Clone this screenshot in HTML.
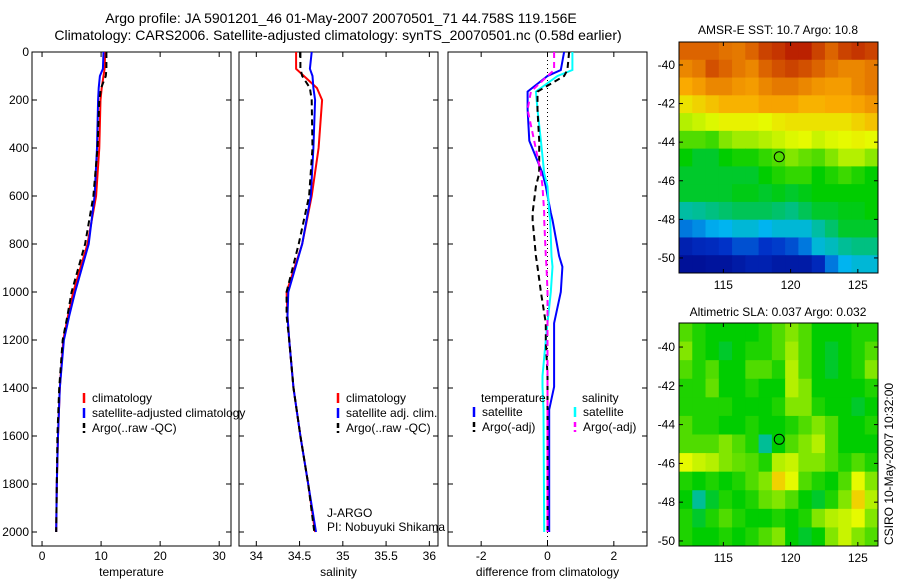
<!DOCTYPE html>
<html><head><meta charset="utf-8"><style>
body{margin:0;background:#fff;}
svg{display:block;font-family:"Liberation Sans",sans-serif;}
text{font-size:12px;fill:#000;}
</style></head><body>
<svg id="fig" width="900" height="580" xmlns="http://www.w3.org/2000/svg">
<text x="341" y="23" text-anchor="middle" style="font-size:14px">Argo profile: JA 5901201_46 01-May-2007 20070501_71 44.758S 119.156E</text>
<text x="338" y="40" text-anchor="middle" style="font-size:14px">Climatology: CARS2006. Satellite-adjusted climatology: synTS_20070501.nc (0.58d earlier)</text>
<text x="778" y="34" text-anchor="middle">AMSR-E SST: 10.7 Argo: 10.8</text>
<text x="778" y="316" text-anchor="middle">Altimetric SLA: 0.037 Argo: 0.032</text>
<text transform="translate(893,545) rotate(-90)">CSIRO 10-May-2007 10:32:00</text>
<g id="g"></g>
</svg>
<script>
// depth grid
const depth = [0,70,100,150,200,400,600,800,1000,1100,1200,1400,1600,1800,2000];
const tClim = [10.7,10.6,10.4,10.1,9.9,9.7,9.15,7.7,5.3,4.4,3.6,3.0,2.7,2.5,2.4];
const tSat  = [10.4,10.3,9.8,9.6,9.5,9.3,8.9,7.9,5.6,4.6,3.7,3.0,2.7,2.5,2.4];
const tArgo = [10.9,10.9,10.8,10.0,9.7,9.4,8.7,7.3,5.0,4.3,3.5,2.9,2.6,2.5,2.4];
const sClim = [34.46,34.46,34.55,34.70,34.76,34.72,34.64,34.53,34.35,34.36,34.38,34.43,34.51,34.60,34.68];
const sSat  = [34.64,34.62,34.65,34.66,34.68,34.66,34.63,34.53,34.37,34.36,34.38,34.43,34.51,34.60,34.69];
const sArgo = [34.51,34.51,34.53,34.62,34.64,34.65,34.61,34.49,34.35,34.35,34.38,34.43,34.51,34.60,34.67];
const dDepth = [0,75,100,165,240,370,505,560,670,700,850,895,1000,1130,1200,1350,1395,1490,2000];
const dTsat  = [0.5,0.4,0.0,-0.6,-0.6,-0.55,-0.15,-0.05,0.1,0.15,0.35,0.45,0.4,0.2,0.2,0.2,0.2,0.05,0.05];
const dSsat  = [0.75,0.75,0.3,-0.35,-0.3,-0.2,-0.1,0.0,0.05,0.08,0.12,0.15,0.1,0.0,-0.05,-0.15,-0.15,-0.12,-0.1];
const dTargo = [0.65,0.6,0.5,-0.3,-0.3,-0.25,-0.25,-0.35,-0.45,-0.45,-0.35,-0.3,-0.2,-0.05,-0.05,0,0,0,0];
const dSargo = [0.2,0.2,0.0,-0.5,-0.6,-0.4,-0.2,-0.15,-0.1,-0.1,-0.05,-0.03,0,0,0,0,0,0,0];
const depthTicks = [0,200,400,600,800,1000,1200,1400,1600,1800,2000];
const tTicks = [0,10,20,30];
const sTicks = [34,34.5,35,35.5,36];
const dTicks = [-2,0,2];
const lonTicks = [115,120,125];
const latTicks = [-40,-42,-44,-46,-48,-50];
const argoLon = 119.156, argoLat = -44.758;
const sstGrid = [
[.85,.85,.85,.83,.82,.85,.9,.92,.95,.95,.9,.85,.9,.92,.9],
[.8,.82,.88,.85,.82,.8,.85,.88,.9,.88,.85,.82,.8,.8,.82],
[.75,.77,.8,.8,.78,.77,.8,.82,.82,.8,.78,.77,.77,.8,.82],
[.68,.7,.72,.74,.74,.74,.76,.76,.76,.74,.74,.75,.75,.76,.78],
[.6,.62,.64,.66,.66,.66,.65,.67,.68,.68,.68,.68,.68,.7,.72],
[.5,.5,.48,.55,.58,.58,.6,.62,.64,.65,.62,.64,.65,.66,.65],
[.42,.4,.4,.42,.44,.44,.47,.5,.55,.52,.5,.55,.6,.6,.56],
[.4,.4,.4,.4,.4,.4,.42,.45,.47,.47,.42,.45,.48,.45,.42],
[.4,.4,.4,.4,.41,.41,.4,.41,.4,.41,.42,.42,.42,.42,.42],
[.34,.35,.36,.37,.38,.38,.38,.37,.36,.38,.4,.4,.41,.41,.42],
[.22,.24,.27,.28,.3,.3,.28,.3,.3,.3,.34,.37,.4,.4,.4],
[.1,.12,.13,.15,.18,.18,.15,.16,.18,.22,.3,.32,.35,.36,.36],
[.05,.05,.06,.06,.08,.1,.1,.08,.08,.08,.12,.22,.28,.3,.3]];
const slaGrid = [
[.5,.45,.42,.42,.42,.42,.45,.5,.55,.5,.42,.42,.42,.45,.45],
[.55,.45,.42,.4,.42,.45,.45,.5,.58,.5,.42,.4,.42,.45,.5],
[.5,.45,.5,.42,.42,.5,.5,.45,.6,.5,.42,.4,.42,.45,.55],
[.45,.45,.52,.42,.42,.45,.42,.42,.6,.55,.42,.42,.42,.42,.45],
[.45,.45,.45,.45,.42,.42,.42,.45,.55,.55,.45,.42,.42,.4,.42],
[.5,.45,.45,.42,.42,.45,.42,.42,.45,.5,.55,.5,.42,.42,.45],
[.5,.5,.5,.55,.5,.45,.35,.42,.5,.55,.6,.5,.42,.42,.42],
[.65,.62,.6,.55,.52,.5,.45,.6,.62,.55,.55,.5,.45,.5,.45],
[.45,.42,.45,.42,.45,.5,.55,.7,.65,.5,.45,.42,.5,.65,.55],
[.42,.35,.4,.45,.42,.45,.52,.55,.5,.42,.4,.45,.55,.7,.6],
[.45,.4,.45,.5,.45,.42,.42,.45,.42,.45,.55,.6,.62,.65,.55],
[.45,.42,.42,.45,.42,.45,.5,.55,.42,.4,.42,.55,.62,.55,.5]];

const NS='http://www.w3.org/2000/svg';
const G=document.getElementById('g');
function mk(tag,at,par){const e=document.createElementNS(NS,tag);for(const k in at)e.setAttribute(k,at[k]);(par||G).appendChild(e);return e;}
const yD = d => 52 + d*0.24;
function panel(name,x0,x1,vmin,vmax,ticks,xlabel,showY){
  const sx=v=>x0+(v-vmin)/(vmax-vmin)*(x1-x0);
  const fr=mk('rect',{x:x0,y:52,width:x1-x0,height:494,fill:'none',stroke:'#000','stroke-width':1});
  
  
  ticks.forEach(t=>{const x=sx(t);
    mk('line',{x1:x,y1:546,x2:x,y2:541,stroke:'#000'});mk('line',{x1:x,y1:52,x2:x,y2:57,stroke:'#000'});
    const tx=mk('text',{x:x,y:560,'text-anchor':'middle'});tx.textContent=String(t);
    
    });
  depthTicks.forEach(d=>{const y=yD(d);
    mk('line',{x1:x0,y1:y,x2:x0+5,y2:y,stroke:'#000'});mk('line',{x1:x1,y1:y,x2:x1-5,y2:y,stroke:'#000'});
    if(showY){const tx=mk('text',{x:x0-3,y:y+4,'text-anchor':'end'});tx.textContent=String(d);
      
      }});
  const xl=mk('text',{x:(x0+x1)/2,y:576,'text-anchor':'middle'});xl.textContent=xlabel;
  
  
  return sx;
}
function line(sx,ds,vs,col,dash,name){
  const p=mk('polyline',{points:vs.map((v,i)=>sx(v).toFixed(1)+','+yD(ds[i]).toFixed(1)).join(' '),fill:'none',stroke:col,'stroke-width':2,'stroke-dasharray':dash||'none'});
  
  
}
function legend(x,y,items){items.forEach((it,i)=>{
  mk('line',{x1:x,y1:y+i*15-9,x2:x,y2:y+i*15+1,stroke:it[1],'stroke-width':2.5,'stroke-dasharray':it[2]?'5,3':'none'});
  const t=mk('text',{x:x+8,y:y+i*15});t.textContent=it[0];
  
  });}
// panel 1
let sx=panel('temperature',32,231,-1.7,32,tTicks,'temperature',true);
line(sx,depth,tClim,'#f00',null,'temp-climatology-line');
line(sx,depth,tSat,'#00f',null,'temp-satellite-line');
line(sx,depth,tArgo,'#000','6,4','temp-argo-line');
legend(84,402,[['climatology','#f00'],['satellite-adjusted climatology','#00f'],['Argo(..raw -QC)','#000',1]]);
// panel 2
sx=panel('salinity',239,438,33.8,36.1,sTicks,'salinity',false);
line(sx,depth,sClim,'#f00',null,'sal-climatology-line');
line(sx,depth,sSat,'#00f',null,'sal-satellite-line');
line(sx,depth,sArgo,'#000','6,4','sal-argo-line');
legend(338,402,[['climatology','#f00'],['satellite adj. clim.','#00f'],['Argo(..raw -QC)','#000',1]]);
let t1=mk('text',{x:327,y:517});t1.textContent='J-ARGO';


let t2=mk('text',{x:327,y:531});t2.textContent='PI: Nobuyuki Shikama';


// panel 3
sx=panel('difference',448,647,-3,3,dTicks,'difference from climatology',false);
mk('line',{x1:sx(0),y1:52,x2:sx(0),y2:546,stroke:'#000','stroke-dasharray':'1,3'});
line(sx,dDepth,dTsat,'#00f',null,'diff-temp-satellite-line');
line(sx,dDepth,dSsat,'#0ff',null,'diff-sal-satellite-line');
line(sx,dDepth,dTargo,'#000','6,4','diff-temp-argo-line');
line(sx,dDepth,dSargo,'#f0f','6,4','diff-sal-argo-line');
let lt=mk('text',{x:481,y:402});lt.textContent='temperature';


let ls=mk('text',{x:582,y:402});ls.textContent='salinity';


legend(474,416,[['satellite','#00f'],['Argo(-adj)','#000',1]]);
legend(575,416,[['satellite','#0ff'],['Argo(-adj)','#f0f',1]]);
// colormap
const cs=[[0,[0,0,128]],[.15,[0,50,200]],[.28,[0,180,240]],[.35,[0,190,150]],[.42,[0,205,0]],[.55,[130,230,0]],[.65,[230,250,0]],[.75,[250,170,0]],[.85,[220,100,0]],[1,[170,0,0]]];
function cmap(v){for(let i=1;i<cs.length;i++){if(v<=cs[i][0]){const a=cs[i-1],b=cs[i],f=(v-a[0])/(b[0]-a[0]);return 'rgb('+a[1].map((c,k)=>Math.round(c+(b[1][k]-c)*f)).join(',')+')';}}return 'rgb(170,0,0)';}
function map(name,y0,y1,grid,latTop,latBot){
  const x0=679,x1=878,lonMin=111.7,lonMax=126.5;
  const sxm=l=>x0+(l-lonMin)/(lonMax-lonMin)*(x1-x0);
  const sym=l=>y0+(latTop-l)/(latTop-latBot)*(y1-y0);
  const R=grid.length,C=grid[0].length;
  const dLon=(lonMax-lonMin)/C,dLat=(latTop-latBot)/R;
  grid.forEach((row,r)=>row.forEach((v,c)=>{
    const xa=sxm(lonMin+c*dLon),ya=sym(latTop-r*dLat);
    const cell=mk('rect',{x:xa,y:ya,width:sxm(lonMin+(c+1)*dLon)-xa+0.5,height:sym(latTop-(r+1)*dLat)-ya+0.5,fill:cmap(v)});
    
    }));
  const fr=mk('rect',{x:x0,y:y0,width:x1-x0,height:y1-y0,fill:'none',stroke:'#000'});
  
  
  lonTicks.forEach(l=>{const x=sxm(l);mk('line',{x1:x,y1:y1,x2:x,y2:y1-4,stroke:'#000'});mk('line',{x1:x,y1:y0,x2:x,y2:y0+4,stroke:'#000'});
    const t=mk('text',{x:x,y:y1+16,'text-anchor':'middle'});t.textContent=String(l);
    
    });
  latTicks.forEach(l=>{const y=sym(l);mk('line',{x1:x0,y1:y,x2:x0+4,y2:y,stroke:'#000'});mk('line',{x1:x1,y1:y,x2:x1-4,y2:y,stroke:'#000'});
    const t=mk('text',{x:x0-4,y:y+4,'text-anchor':'end'});t.textContent=String(l);
    
    });
  const c=mk('circle',{cx:sxm(argoLon),cy:sym(argoLat),r:5,fill:'none',stroke:'#000'});
  
  
}
map('sst-map',42,273,sstGrid,-38.81,-50.78);
map('sla-map',323,546,slaGrid,-38.76,-50.26);
</script>
</body></html>
